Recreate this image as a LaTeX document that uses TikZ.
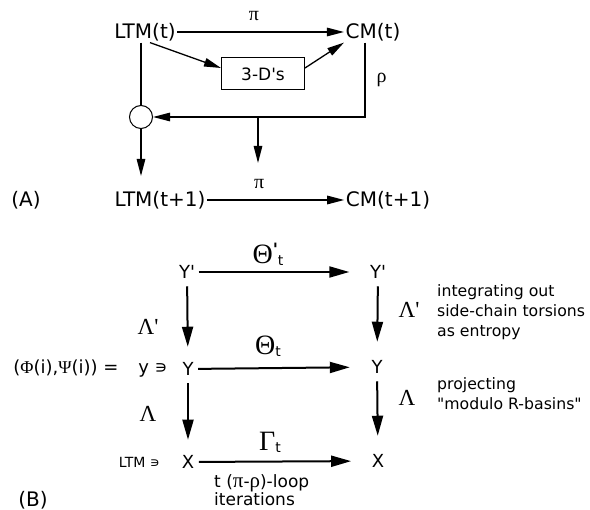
\documentclass[tikz,border=0pt]{standalone}
\usepackage{fontspec}
\setmainfont{DejaVu Sans}
\newfontfamily\grk{Liberation Serif}
\usetikzlibrary{arrows.meta,positioning}
\newcommand{\tsub}[1]{\raisebox{-2pt}{\normalfont\fontsize{14}{14}\selectfont #1}}
\newcommand{\tprime}{\raisebox{8pt}{\normalfont\bfseries\fontsize{17}{17}\selectfont\textquotesingle}}
\newcommand{\gk}[1]{{\grk\fontsize{21}{18}\selectfont #1}}

\begin{document}
\begin{tikzpicture}[x=1pt, y=-1pt,
  big/.style={font=\fontsize{20}{22}\selectfont, inner sep=1.5pt},
  var/.style={font=\fontsize{18}{20}\selectfont, inner sep=1.5pt},
  note/.style={font=\fontsize{15.7}{20}\selectfont, align=left, inner sep=0pt},
  greek/.style={font=\fontsize{20}{20}\selectfont\grk, inner sep=0pt},
  lam/.style={font=\fontsize{23}{23}\selectfont\grk, inner sep=0pt},
  bgreek/.style={font=\fontsize{28}{28}\selectfont\grk, inner sep=0pt},
  arr/.style={-{Triangle[length=17pt,width=8.5pt]}, line width=1.3pt},
  barr/.style={-{Triangle[length=20pt,width=11pt]}, line width=2pt}
]
\useasboundingbox (0,0) rectangle (590,510);

% (A) one pass of the loop
\node[big] (ltm) at (145,32) {LTM(t)};
\node[big] (cm) at (373,32) {CM(t)};
\node[draw, line width=1pt, minimum width=83pt, minimum height=32pt,
      font=\fontsize{17}{19}\selectfont] (dbox) at (263,74) {3-D\textquotesingle s};
\node[draw, circle, line width=1pt, minimum size=23pt, inner sep=0pt] (sum) at (141,117) {};
\node[big] (ltmn) at (160,200) {LTM(t+1)};
\node[big] (cmn) at (388,200) {CM(t+1)};
\node[big] (A) at (26,200) {(A)};
\coordinate (sumout) at (141,176);
\coordinate (fbsplit) at (258,117);
\coordinate (fbout) at (258,163);

\draw[arr] (ltm) -- (cm) node[pos=0.46, greek, above=11pt] (pi1) {π};
\draw[arr] ([xshift=5pt]ltm.south) -- ([yshift=6pt]dbox.west);
\draw[arr] ([yshift=6pt]dbox.east) -- (cm.south west);
\draw[arr] ([xshift=-8pt]cm.south) |- (sum) node[pos=0.25, right=11pt, greek] (rho) {ρ};
\draw[line width=1.3pt] (sum |- ltm.south) -- (sum);
\draw[arr] (sum) -- (sumout);
\draw[arr] (fbsplit) -- (fbout);
\draw[arr] (ltmn) -- (cmn) node[pos=0.38, greek, above=11pt] (pi2) {π};

% (B) the three levels
\node[var] (ypl) at (187,272) {Y\textquotesingle};
\node[var] (ypr) at (378,272) {Y\textquotesingle};
\node[var] (yl) at (188,369) {Y};
\node[var] (yr) at (377,367) {Y};
\node[var] (xl) at (188,462) {X};
\node[var] (xr) at (378,461) {X};
\node[big] (B) at (33,500) {(B)};

\draw[barr, shorten <=2pt, shorten >=19pt] (ypl) -- (ypr);
\draw[barr, shorten <=3pt, shorten >=20pt] (yl) -- (yr);
\draw[barr, shorten <=3pt, shorten >=19pt] (xl) -- (xr);
\draw[barr, shorten <=6pt, shorten >=14pt] (ypl) -- (yl);
\draw[barr, shorten <=6pt, shorten >=17pt] (ypr) -- (yr);
\draw[barr, shorten <=6pt, shorten >=14pt] (yl) -- (xl);
\draw[barr, shorten <=6pt, shorten >=17pt] (yr) -- (xr);

\node[bgreek] (thp) at (268,254) {Θ\tprime\tsub{t}};
\node[bgreek] (th) at (268,346) {Θ\tsub{t}};
\node[bgreek] (gam) at (270,442) {Γ\tsub{t}};
\node[lam] (lpl) at (148,327) {Λ\textquotesingle};
\node[lam] (ll) at (148,414) {Λ};
\node[lam] (lpr) at (409,310) {Λ\textquotesingle};
\node[lam] (lr) at (407,398) {Λ};

\node[note, font=\fontsize{18}{20}\selectfont, left=13pt of yl] (phipsi) {({\grk Φ}(i),{\grk Ψ}(i)) =\hspace{1.1em}y ∍};
\node[font=\fontsize{14}{16}\selectfont, inner sep=0pt, left=20pt of xl] (ltmin) {LTM ∍};
\node[note, anchor=north west] (ent) at (437,284) {integrating out\\side-chain torsions\\as entropy};
\node[note, anchor=north west] (proj) at (437,377) {projecting\\\textquotedbl modulo R-basins\textquotedbl};
\node[note, font=\fontsize{17}{18}\selectfont, anchor=north west] (iter) at (214,474) {t (\gk{π}-\gk{ρ})-loop\\iterations};
\end{tikzpicture}
\end{document}
